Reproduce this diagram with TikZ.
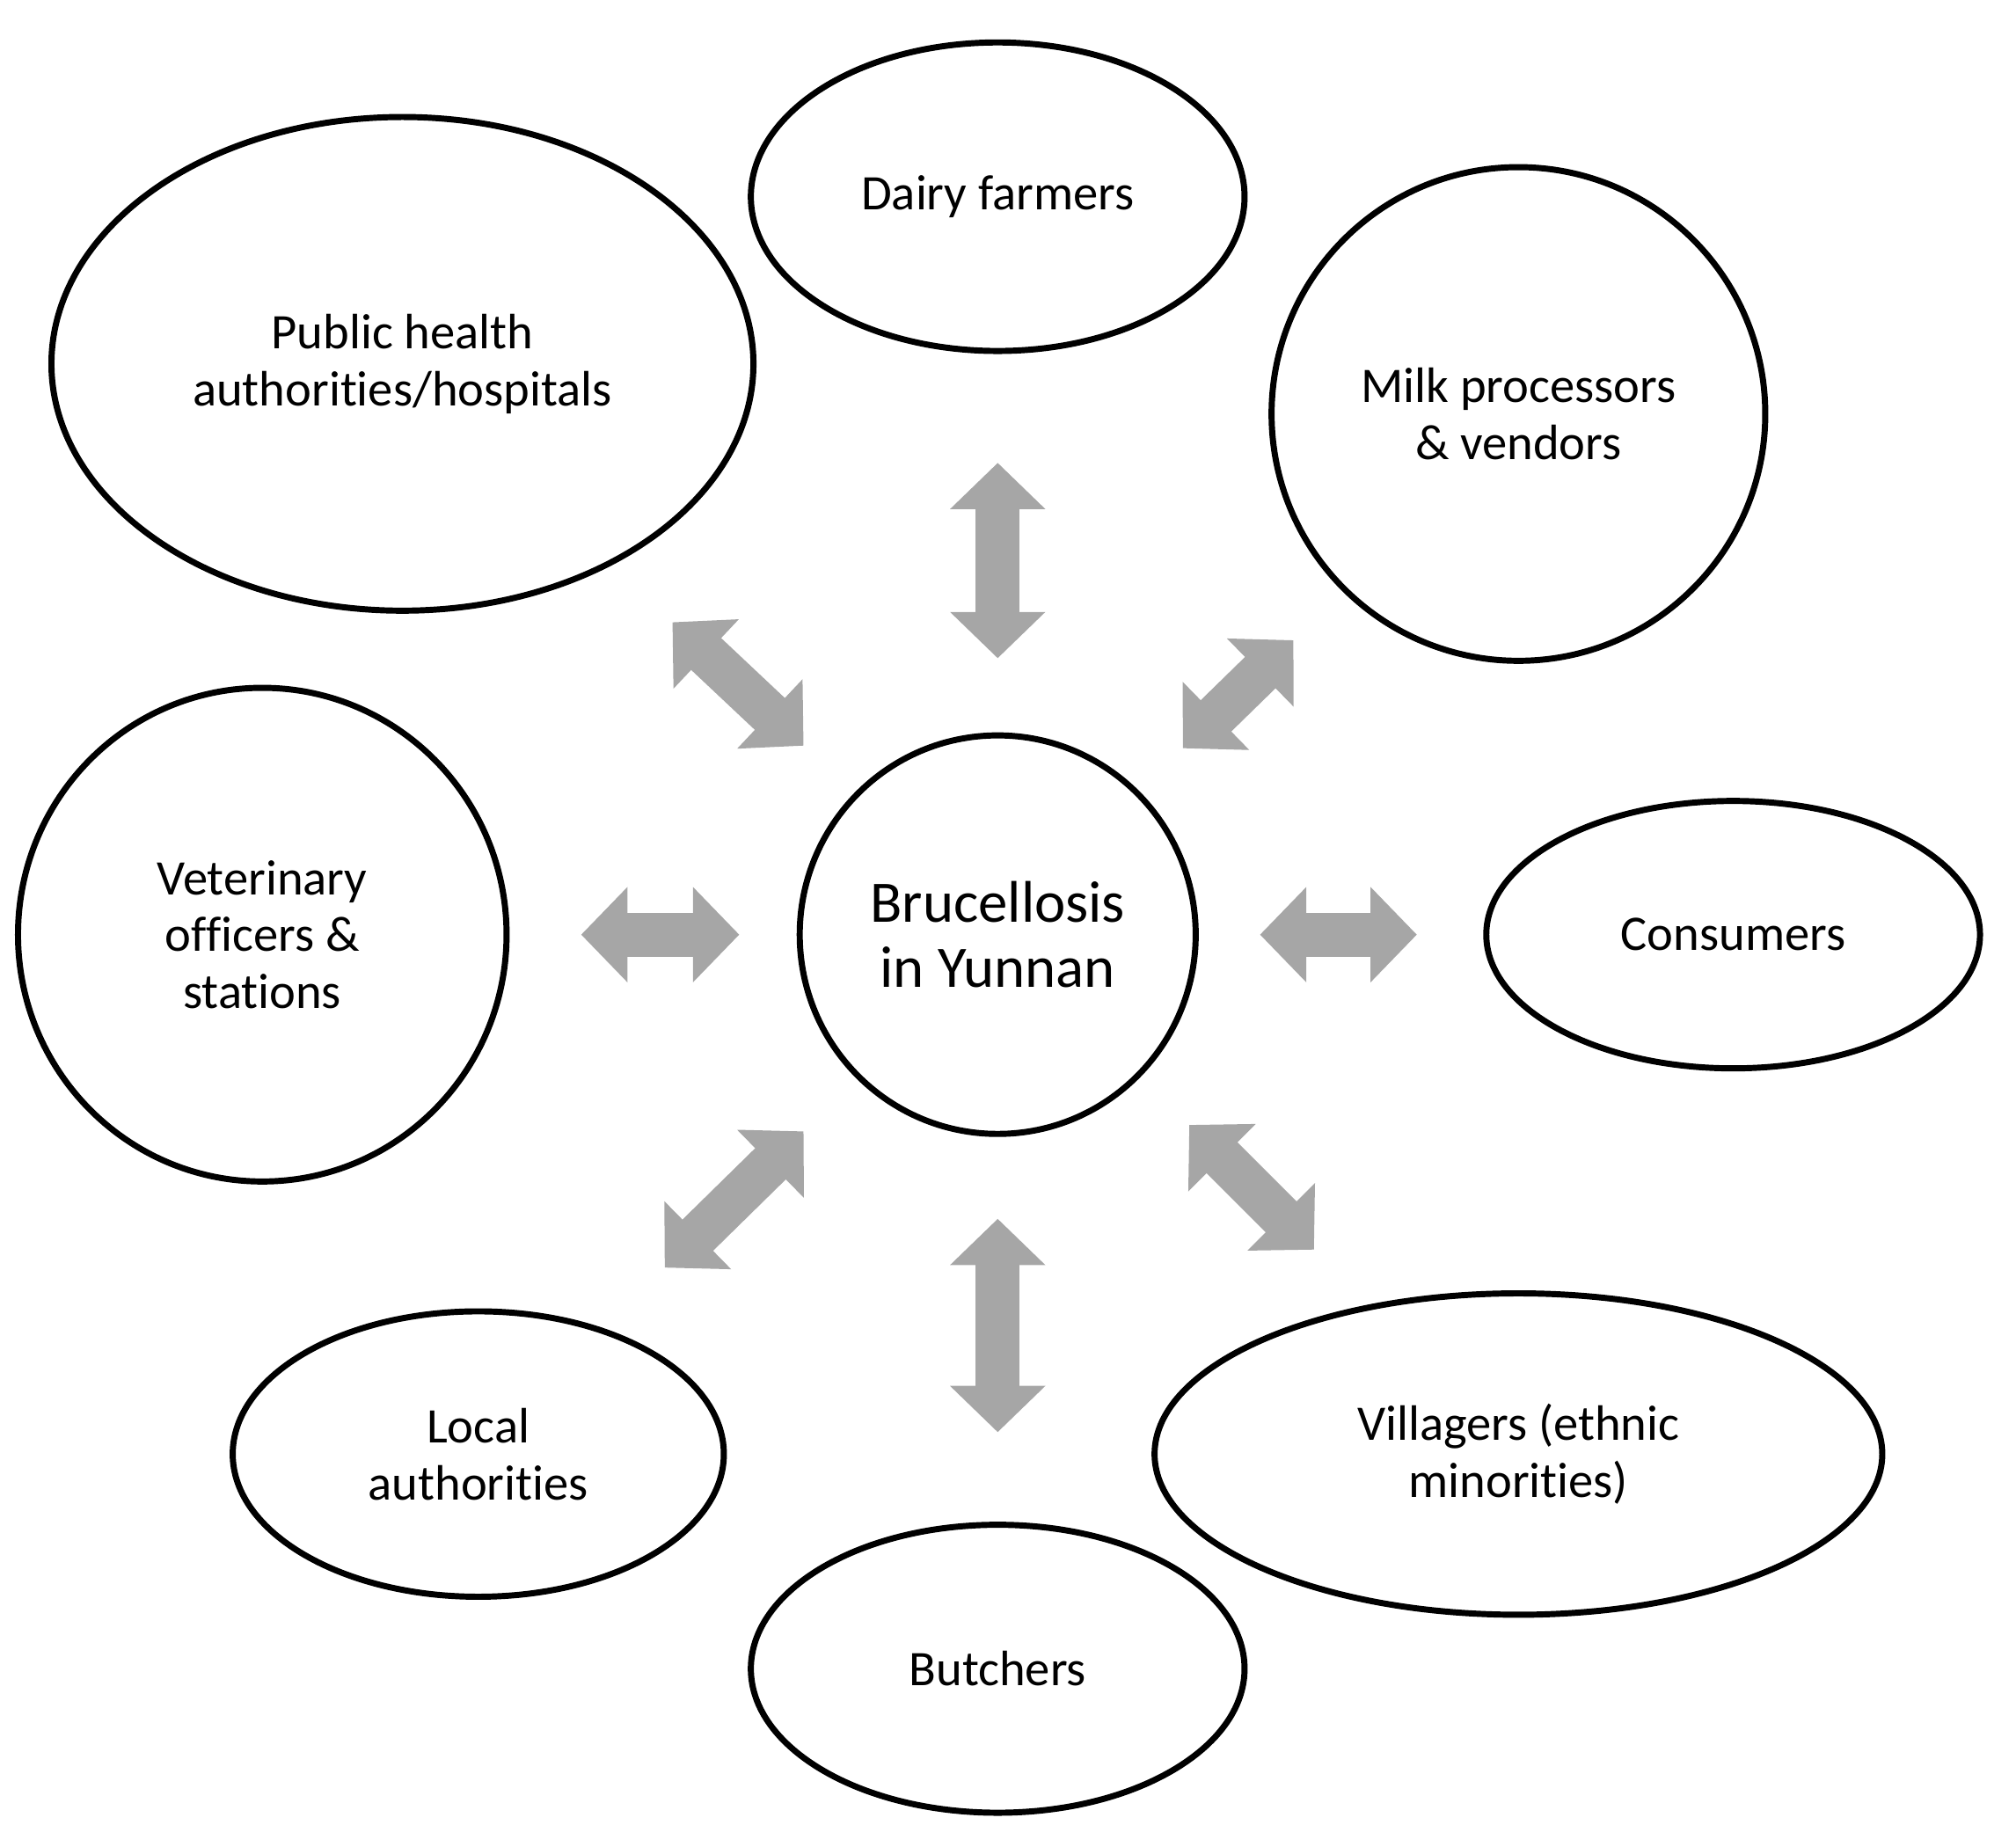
\documentclass[tikz,border=0pt]{standalone}
\usepackage{fontspec}
\setmainfont{Carlito}[Ligatures=NoCommon]
\usetikzlibrary{arrows.meta}
\definecolor{arrg}{RGB}{166,166,166}
\begin{document}
\begin{tikzpicture}[x=0.01cm,y=-0.01cm,
  ell/.style={draw=black,line width=1.35pt,align=center,font=\fontsize{11}{12.6}\selectfont},
  dbl/.style={draw=arrg,line width=0.34cm,{Triangle[width=0.72cm,length=0.36cm]}-{Triangle[width=0.72cm,length=0.36cm]}}]
\useasboundingbox (0,0) rectangle (1568,1436);
\draw[ell] (776,153) ellipse [x radius=192,y radius=120];
\node[font=\fontsize{11}{12.6}\selectfont] (dairy) at (776,153) {Dairy farmers};
\draw[ell] (313,283) ellipse [x radius=273,y radius=192];
\node[align=center,font=\fontsize{11}{12.6}\selectfont] (pub) at (313,283) {Public health\\authorities/hospitals};
\draw[ell] (1181,322) circle [radius=192];
\node[align=center,font=\fontsize{11}{12.6}\selectfont] (milk) at (1181,322) {Milk processors\\\& vendors};
\draw[ell] (204,727) ellipse [x radius=190,y radius=192];
\node[align=center,font=\fontsize{11}{12.6}\selectfont] (vet) at (204,727) {Veterinary\\officers \&\\stations};
\draw[ell] (776,727) ellipse [x radius=154,y radius=155];
\node[align=center,font=\fontsize{13}{14.5}\selectfont] (bru) at (776,727) {Brucellosis\\in Yunnan};
\draw[ell] (1348,727) ellipse [x radius=192,y radius=104];
\node[font=\fontsize{11}{12.6}\selectfont] (cons) at (1348,727) {Consumers};
\draw[ell] (372,1131) ellipse [x radius=191,y radius=111];
\node[align=center,font=\fontsize{11}{12.6}\selectfont] (loc) at (372,1131) {Local\\authorities};
\draw[ell] (1181,1131) ellipse [x radius=283,y radius=125];
\node[align=center,font=\fontsize{11}{12.6}\selectfont] (vil) at (1181,1131) {Villagers (ethnic\\minorities)};
\draw[ell] (776,1298) ellipse [x radius=192,y radius=112];
\node[font=\fontsize{11}{12.6}\selectfont] (but) at (776,1298) {Butchers};
\coordinate (a1) at (776,360); \coordinate (b1) at (776,512);
\coordinate (a2) at (523,484); \coordinate (b2) at (625,580);
\coordinate (a3) at (1006,498); \coordinate (b3) at (920,582);
\coordinate (a4) at (452,727); \coordinate (b4) at (575,727);
\coordinate (a5) at (980,727); \coordinate (b5) at (1102,727);
\coordinate (a6) at (625,880); \coordinate (b6) at (517,986);
\coordinate (a7) at (925,875); \coordinate (b7) at (1022,972);
\coordinate (a8) at (776,948); \coordinate (b8) at (776,1114);
\foreach \i in {1,...,8} \draw[dbl] (a\i) -- (b\i);
\end{tikzpicture}
\end{document}
